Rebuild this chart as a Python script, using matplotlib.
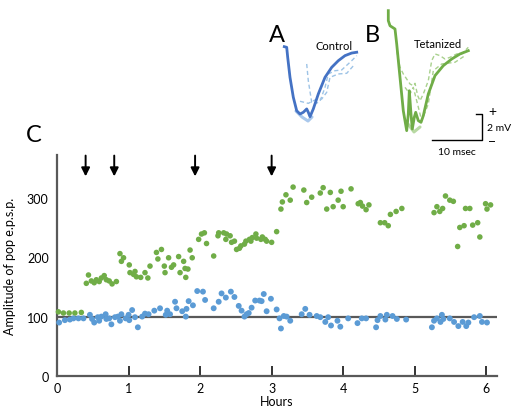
import matplotlib
matplotlib.use("Agg")
import matplotlib.pyplot as plt

plt.rcParams['font.family'] = ['Lato', 'DejaVu Sans']

# ----------------- Data -----------------
blue_hours = [0.03, 0.11, 0.18, 0.23, 0.30, 0.37, 0.46, 0.49, 0.52, 0.57, 0.59, 0.62,
              0.68, 0.69, 0.73, 0.76, 0.81, 0.85, 0.88, 0.90, 0.96, 1.00, 1.01, 1.05,
              1.09, 1.13, 1.19, 1.23, 1.28, 1.36, 1.44, 1.52, 1.54, 1.58, 1.65, 1.67,
              1.75, 1.80, 1.81, 1.84, 1.90, 1.96, 2.04, 2.07, 2.19, 2.26, 2.30, 2.36,
              2.43, 2.48, 2.54, 2.58, 2.62, 2.65, 2.68, 2.72, 2.77, 2.83, 2.86, 2.89,
              2.93, 2.99, 3.07, 3.11, 3.13, 3.17, 3.21, 3.26, 3.42, 3.47, 3.53, 3.63,
              3.68, 3.75, 3.79, 3.83, 3.92, 3.96, 4.07, 4.20, 4.26, 4.32, 4.46, 4.48,
              4.52, 4.59, 4.61, 4.69, 4.75, 4.88, 5.24, 5.27, 5.31, 5.36, 5.38, 5.40,
              5.49, 5.55, 5.61, 5.67, 5.72, 5.75, 5.83, 5.91, 5.94, 6.01]
blue_amp = [90, 94, 95, 97, 97, 97, 103, 96, 90, 99, 93, 100,
            104, 96, 97, 87, 99, 100, 93, 104, 97, 103, 94, 111,
            99, 82, 100, 105, 104, 110, 114, 103, 110, 104, 125, 114,
            109, 100, 113, 126, 119, 143, 142, 128, 114, 125, 139, 132,
            142, 133, 118, 110, 100, 104, 106, 115, 127, 127, 126, 138,
            109, 130, 112, 97, 80, 101, 100, 93, 104, 113, 103, 101,
            99, 91, 99, 85, 93, 83, 97, 89, 97, 97, 82, 94,
            101, 95, 103, 101, 96, 95, 82, 93, 97, 91, 103, 96,
            97, 91, 84, 91, 84, 90, 99, 101, 91, 90]

green_hours = [0.02, 0.09, 0.17, 0.25, 0.34, 0.41, 0.44, 0.48, 0.52, 0.55, 0.59, 0.62,
               0.66, 0.69, 0.73, 0.77, 0.83, 0.88, 0.90, 0.93, 1.01, 1.02, 1.07, 1.09,
               1.11, 1.17, 1.23, 1.27, 1.30, 1.39, 1.41, 1.46, 1.50, 1.51, 1.56, 1.60,
               1.63, 1.70, 1.72, 1.77, 1.79, 1.80, 1.83, 1.86, 1.89, 1.98, 2.02, 2.06,
               2.09, 2.19, 2.25, 2.26, 2.33, 2.36, 2.37, 2.42, 2.44, 2.48, 2.51, 2.55,
               2.57, 2.62, 2.64, 2.69, 2.71, 2.73, 2.78, 2.79, 2.85, 2.87, 2.91, 2.93,
               3.00, 3.07, 3.13, 3.15, 3.20, 3.26, 3.30, 3.45, 3.49, 3.56, 3.68, 3.72,
               3.77, 3.82, 3.86, 3.93, 3.97, 4.00, 4.11, 4.21, 4.24, 4.27, 4.32, 4.36,
               4.52, 4.58, 4.63, 4.66, 4.74, 4.82, 5.27, 5.31, 5.35, 5.39, 5.43, 5.49,
               5.54, 5.60, 5.63, 5.69, 5.71, 5.77, 5.81, 5.88, 5.91, 5.99, 6.01, 6.06]
green_amp = [108, 106, 106, 106, 107, 156, 170, 160, 157, 162, 159, 165,
             169, 162, 160, 155, 159, 206, 193, 199, 187, 174, 171, 176,
             167, 166, 174, 165, 185, 208, 197, 213, 185, 174, 199, 183,
             187, 201, 174, 193, 181, 166, 180, 212, 199, 230, 239, 241,
             223, 202, 236, 241, 241, 230, 239, 236, 225, 227, 213, 215,
             219, 222, 227, 230, 227, 233, 239, 232, 230, 234, 230, 227,
             225, 243, 281, 293, 305, 296, 318, 313, 292, 301, 308, 317,
             281, 309, 285, 296, 311, 285, 315, 290, 292, 286, 280, 288,
             258, 258, 253, 272, 277, 282, 275, 285, 277, 282, 303, 296,
             294, 218, 250, 253, 282, 282, 254, 258, 234, 290, 281, 288]

tetanus_hours = [0.40, 0.80, 1.93, 3.00]

# inset traces (msec, mV)
ctrl_t = [4.86, 5.34, 5.54, 6.0, 6.66, 7.34, 8.0, 8.66, 9.34, 9.66, 10.0, 10.66,
          11.66, 13.0, 14.34, 15.66, 17.0, 18.34, 19.34]
ctrl_v = [-0.59, -0.64, -1.41, -2.95, -4.48, -5.52, -5.77, -5.64, -5.38, -5.64, -5.98, -5.38,
          -4.23, -2.95, -2.18, -1.67, -1.28, -1.08, -1.02]
ctrl_light_t = [7.2, 8.4, 9.6, 10.4]
ctrl_light_v = [-5.54, -6.0, -6.31, -6.0]
ctrl_dash1_t = [9.34, 9.66, 10.34, 11.0, 12.0, 13.0, 13.66, 15.0, 16.34, 18.34, 19.34]
ctrl_dash1_v = [-1.92, -3.21, -4.87, -5.0, -4.79, -3.72, -2.69, -2.44, -2.38, -1.67, -1.28]
ctrl_dash2_t = [8.0, 9.66, 11.0, 12.34, 13.34, 14.0, 15.66, 17.34, 19.0]
ctrl_dash2_v = [-4.79, -4.95, -4.69, -4.62, -4.1, -2.95, -2.69, -2.64, -1.92]

tet_t = [25.66, 25.66, 26.0, 27.0, 27.34, 28.0, 28.66, 29.34, 29.66, 29.86, 30.2, 30.46,
         30.86, 31.14, 31.66, 32.2, 32.66, 33.66, 35.0, 36.66, 38.34, 40.0, 41.66]
tet_v = [2.18, 1.41, 1.02, 0.77, -0.38, -2.95, -5.52, -7.05, -5.77, -3.98, -5.77, -6.92,
         -6.02, -5.64, -6.28, -6.41, -5.9, -4.23, -2.82, -2.05, -1.54, -1.15, -0.9]
tet_light_t = [29.6, 30.8, 32.0]
tet_light_v = [-6.54, -7.15, -6.77]
tet_dash1_t = [27.34, 28.0, 28.66, 29.34, 30.0, 30.66, 31.0, 31.54, 32.0, 32.66, 33.66, 34.34,
               35.0, 36.0, 37.0, 38.0, 39.34, 40.34, 41.66]
tet_dash1_v = [-0.9, -2.18, -2.69, -3.08, -3.46, -3.59, -3.41, -4.36, -4.75, -4.23, -3.21, -1.67,
               -1.15, -1.28, -1.54, -1.41, -1.15, -1.15, -0.64]
tet_dash2_t = [29.0, 30.0, 30.66, 31.34, 32.34, 33.66, 34.66, 36.34, 39.0, 41.0]
tet_dash2_v = [-3.72, -4.23, -3.72, -4.75, -6.28, -5.0, -2.44, -1.92, -1.79, -1.28]

BLUE = "#5B9BD5"
GREEN = "#70AD47"
DARK_BLUE = "#4472C4"
AXIS_GRAY = "#595959"

W, H = 515, 410


def fx(px):
    return px / W


def fy(py):
    return 1 - py / H


fig = plt.figure(figsize=(5.15, 4.1), dpi=100)

# ----------------- Main scatter panel -----------------
ax = fig.add_axes([fx(57), fy(377), fx(497) - fx(57), fy(156) - fy(377)])
ax.axhline(100, color=AXIS_GRAY, linewidth=1.6, zorder=1)
ax.scatter(green_hours, green_amp, s=16, color=GREEN, edgecolors='none', zorder=3, clip_on=False)
ax.scatter(blue_hours, blue_amp, s=18, color=BLUE, edgecolors='none', zorder=3, clip_on=False)

for h in tetanus_hours:
    ax.annotate("", xy=(h, 336), xytext=(h, 371),
                arrowprops=dict(arrowstyle="-|>,head_length=0.5,head_width=0.25",
                                color="black", lw=1.4, shrinkA=0, shrinkB=0),
                annotation_clip=False)

ax.set_xlim(0, 6.15)
ax.set_ylim(0, 372)
ax.set_xticks([0, 1, 2, 3, 4, 5, 6])
ax.set_yticks([0, 100, 200, 300])
for side in ("top", "right"):
    ax.spines[side].set_visible(False)
for side in ("left", "bottom"):
    ax.spines[side].set_color(AXIS_GRAY)
    ax.spines[side].set_linewidth(1.6)
ax.tick_params(axis='x', direction='in', length=7, width=1.4, color="#333333",
               labelsize=9, pad=4)
ax.tick_params(axis='y', length=0, labelsize=9, pad=6)
ax.set_xlabel("Hours", fontsize=9, labelpad=1)
ax.set_ylabel("Amplitude of pop e.p.s.p.", fontsize=9, labelpad=8)

fig.text(fx(26), fy(135), "C", fontsize=17, va='center', ha='left')

# ----------------- Inset traces A / B -----------------
ins = fig.add_axes([fx(260), fy(165), fx(515) - fx(260), fy(0) - fy(165)])
ins.set_xlim(0, 51)
ins.set_ylim(-(165 - 40) / 13, 40 / 13)
ins.axis("off")

ins.plot(ctrl_light_t, ctrl_light_v, color="#A9C8EC", lw=2.2, solid_capstyle='round')
ins.plot(ctrl_dash1_t, ctrl_dash1_v, color="#9DC3E6", lw=1.0, ls=(0, (3, 2)))
ins.plot(ctrl_dash2_t, ctrl_dash2_v, color="#9DC3E6", lw=1.0, ls=(0, (3, 2)))
ins.plot(ctrl_t, ctrl_v, color=DARK_BLUE, lw=2.0)

ins.plot(tet_light_t, tet_light_v, color="#B8D9A3", lw=2.2, solid_capstyle='round')
ins.plot(tet_dash1_t, tet_dash1_v, color="#A9D18E", lw=1.0, ls=(0, (3, 2)))
ins.plot(tet_dash2_t, tet_dash2_v, color="#A9D18E", lw=1.0, ls=(0, (3, 2)))
ins.plot(tet_t, tet_v, color=GREEN, lw=2.0)

# scale bar: 10 msec x 2 mV
bar_t0, bar_v0 = 34.4, -7.77
ins.plot([bar_t0, bar_t0 + 10, bar_t0 + 10, bar_t0 + 8.8],
         [bar_v0, bar_v0, bar_v0 + 2, bar_v0 + 2], color="black", lw=1.0)
ins.text(bar_t0 + 5, bar_v0 - 0.55, "10 msec", fontsize=7.5, ha='center', va='top')
ins.text(bar_t0 + 11.2, bar_v0 + 2.2, "+", fontsize=10, ha='left', va='center')
ins.text(bar_t0 + 11.2, bar_v0, "\u2212", fontsize=10, ha='left', va='center')
ins.text(bar_t0 + 11.0, bar_v0 + 1.0, "2 mV", fontsize=7.5, ha='left', va='center')

fig.text(fx(269), fy(35), "A", fontsize=17, va='center', ha='left')
fig.text(fx(365), fy(35), "B", fontsize=17, va='center', ha='left')
fig.text(fx(316), fy(46), "Control", fontsize=8, va='center', ha='left')
fig.text(fx(414), fy(45), "Tetanized", fontsize=8, va='center', ha='left')

fig.savefig("out.png", dpi=100)
